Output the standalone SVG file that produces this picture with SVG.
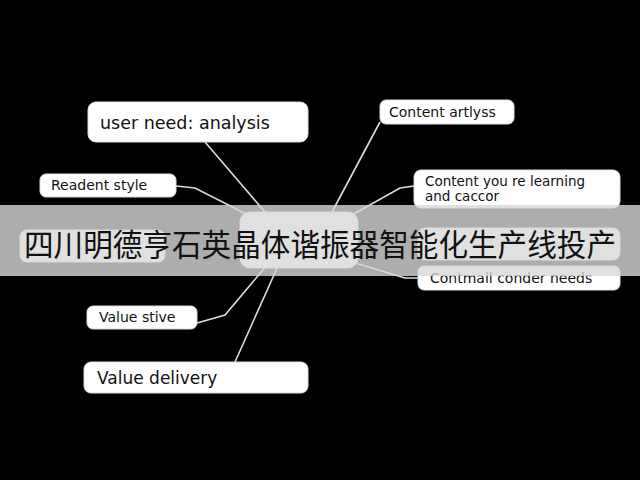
<svg xmlns="http://www.w3.org/2000/svg" width="640" height="480" viewBox="0 0 640 480">
<style>
.b{fill:#fff;stroke:#ddd;stroke-width:1}
.t{font-family:"DejaVu Sans",sans-serif;fill:#111}
.c{fill:none;stroke:#ddd;stroke-width:1.6}
</style>
<rect width="640" height="480" fill="#000"/>
<g id="connectors">
<path class="c" d="M205,142 L265,212"/>
<path class="c" d="M380,122 L332,212"/>
<path class="c" d="M176,186 L195,188 L248,215"/>
<path class="c" d="M414,186 L400,188 L352,215"/>
<path class="c" d="M418,278 L405,278 L352,262"/>
<path class="c" d="M197,323 L225,315 L268,264"/>
<path class="c" d="M235,362 L278,266"/>
</g>
<g id="center"><rect class="b" x="240" y="212" width="118" height="56" rx="10"/></g>
<g id="hidden-left"><rect class="b" x="20" y="230" width="145" height="32" rx="7"/></g>
<g id="hidden-right"><rect class="b" x="418" y="228" width="202" height="32" rx="7"/></g>
<g id="user-need"><rect class="b" x="88" y="102" width="220" height="40" rx="8"/><text class="t" x="100" y="129" font-size="17.5">user need: analysis</text></g>
<g id="content-artlyss"><rect class="b" x="380" y="100" width="134" height="24" rx="6"/><text class="t" x="389" y="117" font-size="14">Content artlyss</text></g>
<g id="readent"><rect class="b" x="40" y="174" width="136" height="23" rx="6"/><text class="t" x="51" y="190" font-size="14">Readent style</text></g>
<g id="content-learning"><rect class="b" x="414" y="170" width="206" height="38" rx="7"/><text class="t" x="425" y="186" font-size="13.5">Content you re learning</text><text class="t" x="425" y="201" font-size="13.5">and caccor</text></g>
<g id="contmall"><rect class="b" x="418" y="266" width="202" height="24" rx="6"/><text class="t" x="430" y="283" font-size="14">Contmall conder needs</text></g>
<g id="value-stive"><rect class="b" x="87" y="306" width="110" height="23" rx="6"/><text class="t" x="99" y="322" font-size="14">Value stive</text></g>
<g id="value-delivery"><rect class="b" x="84" y="362" width="224" height="31" rx="7"/><text class="t" x="97" y="384" font-size="17">Value delivery</text></g>
<rect x="0" y="205" width="640" height="71" fill="#d8d8d8" opacity="0.8"/>
<text x="24" y="256" font-size="31" textLength="592" lengthAdjust="spacingAndGlyphs" font-family="'Noto Sans CJK SC',sans-serif" fill="#111">四川明德亨石英晶体谐振器智能化生产线投产</text>
</svg>
